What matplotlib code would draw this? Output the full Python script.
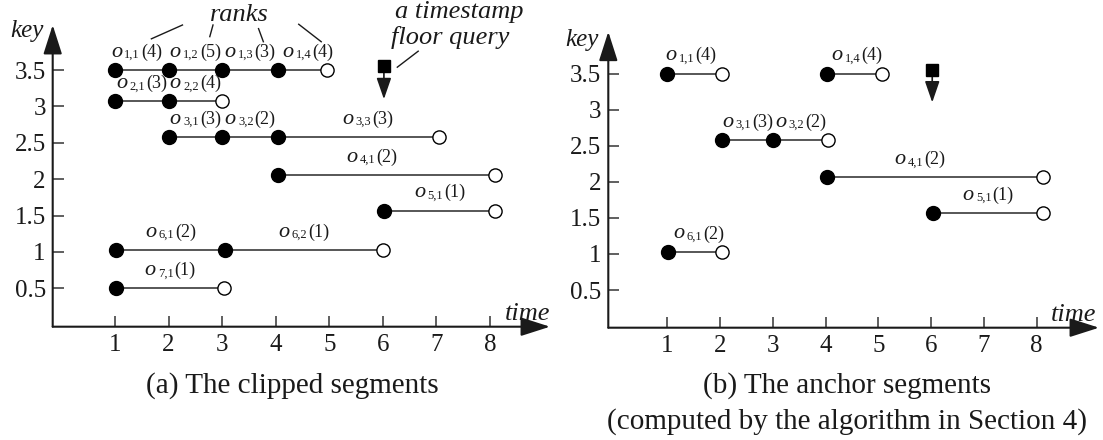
import matplotlib
matplotlib.use("Agg")
import matplotlib.pyplot as plt

plt.rcParams["font.family"] = ["Liberation Serif", "DejaVu Serif"]

# key of each object o_1 ... o_7
object_keys = [3.5, 3.07, 2.58, 2.06, 1.57, 1.03, 0.5]

# (a) clipped segments: object id, piece index, start, end, rank
clip_obj = [1, 1, 1, 1, 2, 2, 3, 3, 3, 4, 5, 6, 6, 7]
clip_idx = [1, 2, 3, 4, 1, 2, 1, 2, 3, 1, 1, 1, 2, 1]
clip_start = [1.0, 2.0, 3.0, 4.05, 1.0, 2.0, 2.0, 3.0, 4.05, 4.05, 6.02, 1.02, 3.05, 1.02]
clip_end = [2.0, 3.0, 4.05, 4.95, 2.0, 3.0, 3.0, 4.05, 7.05, 8.1, 8.1, 3.05, 6.0, 3.03]
clip_rank = [4, 5, 3, 4, 3, 4, 3, 2, 3, 2, 1, 2, 1, 1]

# (b) anchor segments
anc_obj = [1, 1, 3, 3, 4, 5, 6]
anc_idx = [1, 4, 1, 2, 1, 1, 1]
anc_start = [1.0, 4.03, 2.04, 3.01, 4.03, 6.04, 1.02]
anc_end = [2.04, 5.06, 3.01, 4.05, 8.12, 8.12, 2.04]
anc_rank = [4, 4, 3, 2, 2, 1, 2]

# timestamp floor query
query_time = 6.02
query_key = 3.55
query_tip = 3.1

x_ticks = [1, 2, 3, 4, 5, 6, 7, 8]
y_ticks = [0.5, 1, 1.5, 2, 2.5, 3, 3.5]
y_tick_labels = ["0.5", "1", "1.5", "2", "2.5", "3", "3.5"]

W, H = 1103, 440
PT = 0.72  # points per pixel at 100 dpi
fig = plt.figure(figsize=(W / 100, H / 100), dpi=100)

INK = "#1a1a1a"
LINE = "#3a3a3a"


def make_axes(left, right, top, bottom, xlim, ylim):
    ax = fig.add_axes([left / W, (H - bottom) / H, (right - left) / W, (bottom - top) / H])
    ax.set_xlim(*xlim)
    ax.set_ylim(*ylim)
    for s in ax.spines.values():
        s.set_visible(False)
    ax.patch.set_alpha(0)
    arrow = dict(arrowstyle="-|>,head_length=1.0,head_width=0.32", mutation_scale=18,
                 shrinkA=0, shrinkB=0, lw=1.5, color=INK)
    ax.annotate("", xy=(0, 1), xytext=(0, 0), xycoords="axes fraction", arrowprops=arrow)
    ax.annotate("", xy=(1, 0), xytext=(0, 0), xycoords="axes fraction", arrowprops=arrow)
    ax.set_xticks(x_ticks)
    ax.set_xticklabels([str(t) for t in x_ticks])
    ax.set_yticks(y_ticks)
    ax.set_yticklabels(y_tick_labels)
    ax.tick_params(direction="in", length=8, width=1.2, color="#444444",
                   labelsize=18, pad=5, labelcolor=INK)
    return ax


def seg_label(ax, xm, k, o, i, r):
    # italic "o", small subscript "o,i", then the rank in parentheses
    parts = [("o", -25.5, 13.3, 16, "italic"),
             ("%d,%d" % (o, i), -12.2, 12.0, 9, "normal"),
             ("(%d)" % r, 4.5, 13.3, 13, "normal")]
    for txt, dx, dy, size, style in parts:
        ax.annotate(txt, xy=(xm, k), xytext=(dx * PT, dy * PT), textcoords="offset points",
                    ha="left", va="baseline", fontsize=size, style=style,
                    color=INK, zorder=5)


def draw_segments(ax, objs, idxs, starts, ends, ranks, nudges):
    for o, i, s, e, r in zip(objs, idxs, starts, ends, ranks):
        k = object_keys[o - 1]
        ax.plot([s, e], [k, k], color=LINE, lw=1.2, zorder=2)
        ax.plot([s], [k], "o", ms=10, color="black", zorder=4)
        continues = any(oo == o and abs(ss - e) < 1e-9 for oo, ss in zip(objs, starts))
        if not continues:
            ax.plot([e], [k], "o", ms=9.5, mfc="white", mec="black", mew=1.0, zorder=4)
        xm = (s + e) / 2 + nudges.get((o, i), 0.0)
        seg_label(ax, xm, k, o, i, r)


def draw_query(ax):
    ax.annotate("", xy=(query_time, query_tip), xytext=(query_time, query_key),
                arrowprops=dict(arrowstyle="-|>,head_length=1.3,head_width=0.45",
                                mutation_scale=10, shrinkA=0, shrinkB=0, lw=1.2, color=INK))
    ax.plot([query_time], [query_key], "s", ms=8, color="black", zorder=5)


# ---- panel (a)
ax_a = make_axes(52.7, 550, 25, 326.7, (-0.162, 9.12), (-0.027, 4.12))
draw_segments(ax_a, clip_obj, clip_idx, clip_start, clip_end, clip_rank,
              {(1, 1): -0.1, (1, 4): 0.1, (3, 3): 0.17, (4, 1): -0.28})
draw_query(ax_a)

# leader lines from "ranks" to the rank labels of o_1
ax_a.text(3.33, 4.17, "ranks", style="italic", fontsize=19, ha="center",
          va="baseline", color=INK, clip_on=False)
rank_from = [(2.26, 4.12), (2.83, 4.12), (3.68, 4.07), (4.43, 4.13)]
rank_to = [(1.68, 3.93), (2.77, 3.96), (3.77, 3.89), (4.85, 3.89)]
for (x0, y0), (x1, y1) in zip(rank_from, rank_to):
    ax_a.plot([x0, x1], [y0, y1], color=INK, lw=1.0, clip_on=False)

ax_a.text(7.42, 4.22, "a timestamp", style="italic", fontsize=19, ha="center",
          va="baseline", color=INK, clip_on=False)
ax_a.text(7.26, 3.86, "floor query", style="italic", fontsize=19, ha="center",
          va="baseline", color=INK, clip_on=False)
ax_a.plot([6.66, 6.27], [3.76, 3.54], color=INK, lw=1.0, clip_on=False)

# ---- panel (b)
ax_b = make_axes(608.3, 1099, 31.7, 327.7, (-0.118, 9.18), (-0.022, 4.08))
draw_segments(ax_b, anc_obj, anc_idx, anc_start, anc_end, anc_rank,
              {(1, 1): -0.07, (1, 4): 0.05, (6, 1): 0.07, (4, 1): -0.29})
draw_query(ax_b)

# axis titles
for kx, ky, tx, ty in [(44, 37, 550, 320), (599, 46, 1096, 321)]:
    fig.text(kx / W, 1 - ky / H, "key", style="italic", fontsize=18,
             ha="right", va="baseline", color=INK)
    fig.text(tx / W, 1 - ty / H, "time", style="italic", fontsize=19,
             ha="right", va="baseline", color=INK)

# captions
fig.text(292 / W, 1 - 386 / H, "(a) The clipped segments", fontsize=21,
         ha="center", va="center", color=INK)
fig.text(847 / W, 1 - 386 / H, "(b) The anchor segments", fontsize=21,
         ha="center", va="center", color=INK)
fig.text(847 / W, 1 - 422 / H, "(computed by the algorithm in Section 4)", fontsize=21,
         ha="center", va="center", color=INK)

fig.savefig("out.png", dpi=100)
